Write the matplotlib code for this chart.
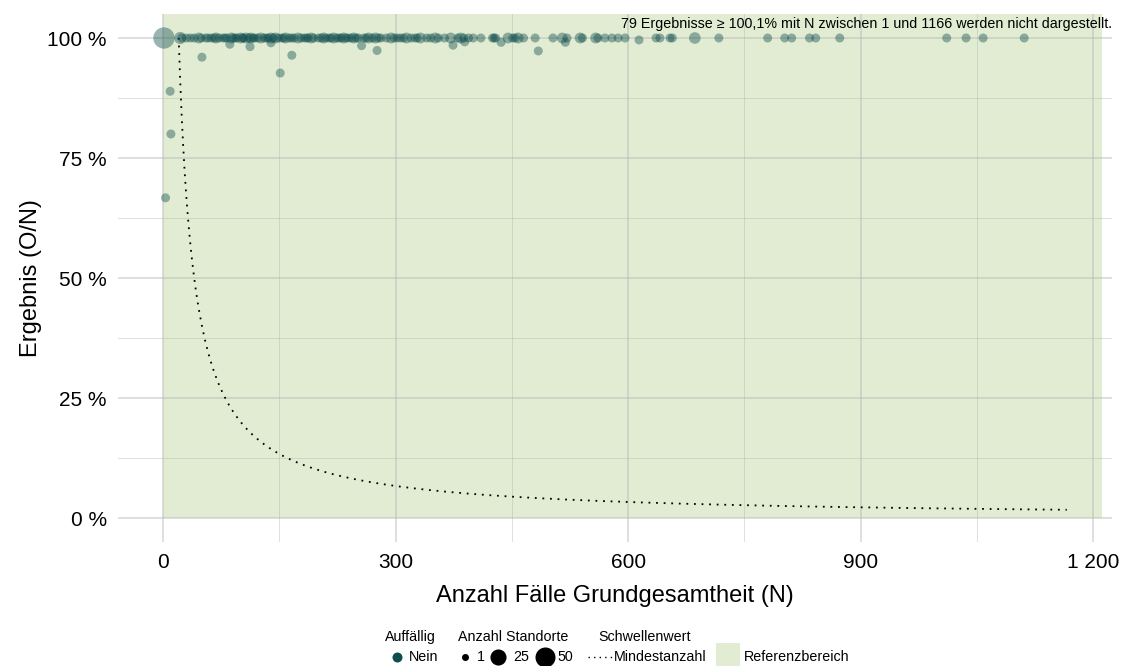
import numpy as np
import matplotlib
matplotlib.use("Agg")
import matplotlib.pyplot as plt
from matplotlib.lines import Line2D
from matplotlib.patches import Rectangle
from matplotlib.ticker import FuncFormatter

plt.rcParams["font.family"] = ["Liberation Sans", "DejaVu Sans"]

# Sites with a result of exactly 100 % (N = cases in the base population)
n_full = [1, 22, 24, 30, 35, 40, 46, 49, 55, 58, 62, 66, 68, 72, 77, 80, 82, 88, 90,
          93, 95, 100, 102, 104, 107, 111, 113, 116, 118, 122, 126, 130, 133, 136, 139, 142,
          145, 149, 153, 156, 158, 163, 166, 169, 174, 178, 182, 185, 187, 191, 194, 200, 204,
          207, 210, 214, 217, 220, 224, 227, 230, 233, 236, 239, 243, 246, 249, 252, 259,
          262, 265, 270, 274, 278, 281, 288, 294, 298, 302, 306, 310, 314, 320, 325, 328,
          332, 340, 345, 351,
          355, 363, 371, 380, 384, 388, 394, 400, 410, 425, 427, 429, 445, 451,
          454, 458, 465, 480, 503, 515, 521, 538, 541, 558, 561, 570, 579, 587,
          596, 636, 641, 654, 657, 686, 717, 780, 802, 811, 834, 842, 873, 1011,
          1036, 1058, 1111]
sites_full = [45, 4, 1, 1, 1, 1, 2, 1, 1, 1, 1, 1, 2, 1, 1, 1, 1, 2, 1,
              1, 1, 2, 1, 1, 2, 1, 2, 1, 1, 1, 2, 1, 1, 1, 2, 1,
              2, 1, 1, 1, 2, 1, 1, 1, 2, 1, 1, 1, 1, 2, 1, 1, 1,
              2, 1, 1, 1, 2, 1, 1, 1, 2, 1, 1, 1, 2, 1, 1, 1,
              1, 2, 1, 2, 1, 1, 1, 2, 1, 1, 1, 1, 2, 1, 1, 1,
              2, 1, 1, 2,
              1, 1, 2, 1, 2, 1, 1, 1, 1, 1, 1, 1, 2, 1,
              1, 2, 1, 1, 1, 2, 1, 2, 1, 2, 1, 1, 1, 1,
              1, 1, 1, 1, 1, 3, 1, 1, 1, 1, 1, 1, 1, 1,
              1, 1, 1]
# Sites below 100 %
n_below = [3, 9, 10, 50, 86, 112, 139, 151, 166, 256, 276, 374, 389, 436, 484,
           519, 614]
res_below = [0.667, 0.889, 0.800, 0.960, 0.987, 0.982, 0.990, 0.927, 0.964,
             0.984, 0.974, 0.985, 0.992, 0.991, 0.973, 0.991, 0.996]
sites_below = [1] * len(n_below)

# Minimum case number threshold: result = 20 / N
min_cases = 20
n_max = 1166
hidden_note = "79 Ergebnisse \u2265 100,1% mit N zwischen 1 und 1166 werden nicht dargestellt."

POINT_COLOR = "#0f4d4d"
REF_COLOR = "#e2ecd3"
GRID_COLOR = "#b4b4b4"


def site_diam(n):
    n = np.asarray(n, dtype=float)
    return 9 + 13 * np.sqrt((n - 1) / 49)


def site_size(n):
    return (site_diam(n) * 72 / 100) ** 2


fig = plt.figure(figsize=(11.27, 6.66), dpi=100)
ax = fig.add_axes([118 / 1127, 1 - 542 / 666, (1112 - 118) / 1127, (542 - 14) / 666])

ax.set_xlim(-58.3, 1224.3)
ax.set_ylim(-0.05, 1.05)

# reference range
ax.add_patch(Rectangle((0, 0), 1212, 1.05, facecolor=REF_COLOR, edgecolor="none", zorder=0))

# grid
for v in [0, 300, 600, 900, 1200]:
    ax.axvline(v, color=GRID_COLOR, alpha=0.5, lw=1.2, zorder=1)
for v in [150, 450, 750, 1050]:
    ax.axvline(v, color=GRID_COLOR, alpha=0.5, lw=0.6, zorder=1)
for v in [0, 0.25, 0.5, 0.75, 1.0]:
    ax.axhline(v, color=GRID_COLOR, alpha=0.5, lw=1.2, zorder=1)
for v in [0.125, 0.375, 0.625, 0.875]:
    ax.axhline(v, color=GRID_COLOR, alpha=0.5, lw=0.6, zorder=1)

# threshold curve
nn = np.linspace(min_cases, n_max, 600)
ax.plot(nn, min_cases / nn, color="black", lw=1.3, ls=(0, (1, 3.2)), zorder=2)

# points
ax.scatter(n_full, np.ones(len(n_full)), s=site_size(sites_full), color=POINT_COLOR,
           alpha=0.42, edgecolors="none", zorder=3)
ax.scatter(n_below, res_below, s=site_size(sites_below), color=POINT_COLOR,
           alpha=0.42, edgecolors="none", zorder=3)

ax.text(1.0, 0.982, hidden_note, transform=ax.transAxes, ha="right", va="center",
        fontsize=10.3, color="black")

for s in ax.spines.values():
    s.set_visible(False)
ax.set_xticks([0, 300, 600, 900, 1200])
ax.set_xticklabels(["0", "300", "600", "900", "1 200"])
ax.set_yticks([0, 0.25, 0.5, 0.75, 1.0])
ax.yaxis.set_major_formatter(FuncFormatter(lambda v, p: f"{v * 100:.0f} %"))
ax.tick_params(length=0, labelsize=15, colors="black", pad=8)
ax.set_xlabel("Anzahl Fälle Grundgesamtheit (N)", fontsize=17, labelpad=9)
ax.set_ylabel("Ergebnis (O/N)", fontsize=17, labelpad=4)


# legend at the bottom
def fx(px):
    return px / 1127


def fy(py):
    return 1 - py / 666


leg_fs = 10.3
fig.text(fx(385), fy(637), "Auffällig", fontsize=leg_fs, va="center")
fig.text(fx(458), fy(637), "Anzahl Standorte", fontsize=leg_fs, va="center")
fig.text(fx(598), fy(637), "Schwellenwert", fontsize=leg_fs, va="center")

fig.add_artist(Line2D([fx(397)], [fy(657)], marker="o", ms=10 * 0.72, color=POINT_COLOR,
                      mec="none", ls="none", transform=fig.transFigure))
fig.text(fx(409), fy(657), "Nein", fontsize=leg_fs, va="center")

for xp, n, lab, xt in [(465, 1, "1", 477), (498, 25, "25", 513), (545, 50, "50", 557)]:
    d = 7 + 13 * np.sqrt((n - 1) / 49)
    fig.add_artist(Line2D([fx(xp)], [fy(657)], marker="o", ms=d * 0.72, color="black",
                          mec="none", ls="none", transform=fig.transFigure))
    fig.text(fx(xt), fy(657), lab, fontsize=leg_fs, va="center")

fig.add_artist(Line2D([fx(588), fx(612)], [fy(657), fy(657)], color="black", lw=1.0,
                      ls=(0, (1, 3)), transform=fig.transFigure))
fig.text(fx(614), fy(657), "Mindestanzahl", fontsize=leg_fs, va="center")

fig.add_artist(Rectangle((fx(716), fy(666)), fx(24), 23 / 666, facecolor=REF_COLOR,
                         edgecolor="none", transform=fig.transFigure))
fig.text(fx(744), fy(657), "Referenzbereich", fontsize=leg_fs, va="center")

fig.savefig("out.png", dpi=100)
